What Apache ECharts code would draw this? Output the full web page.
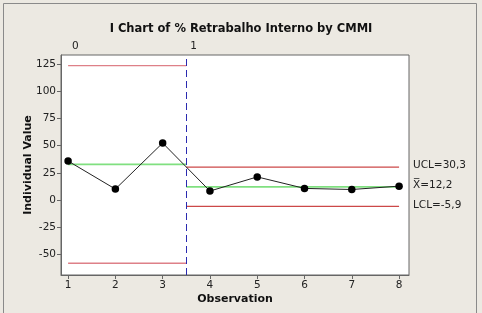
<!DOCTYPE html>
<html>
<head>
<meta charset="utf-8">
<script src="https://cdn.jsdelivr.net/npm/echarts@6/dist/echarts.min.js"></script>
<style>
  html, body { margin: 0; padding: 0; background: #ece9e2; }
  #chart { width: 482px; height: 313px; }
</style>
</head>
<body>
<div id="chart"></div>
<script>
// observations and their values
const observations = [1, 2, 3, 4, 5, 6, 7, 8];
const values = [35.9, 10.1, 52.5, 8.3, 21.3, 10.7, 9.7, 12.8];

// stages: name, first x, last x, UCL, mean, LCL
const stageNames = ["0", "1"];
const stageStart = [1, 3.5];
const stageEnd = [3.5, 8];
const ucl = [123.8, 30.3];
const mean = [32.8, 12.2];
const lcl = [-58.2, -5.9];

const xTicks = [1, 2, 3, 4, 5, 6, 7, 8];
const yTicks = [-50, -25, 0, 25, 50, 75, 100, 125];
const limitLabels = ["UCL=30,3", "X\u0305=12,2", "LCL=-5,9"];

const font = "Verdana, 'DejaVu Sans', sans-serif";
const chart = echarts.init(document.getElementById("chart"));

function stageLine(i, val, color, width) {
  return {
    type: "line",
    data: [[stageStart[i], val], [stageEnd[i], val]],
    symbol: "none",
    silent: true,
    lineStyle: { color: color, width: width },
    z: 1,
  };
}

const limitSeries = [];
for (let i = 0; i < stageNames.length; i++) {
  const red = i === 0 ? "#de8088" : "#cc4848";
  limitSeries.push(stageLine(i, ucl[i], red, 1.3));
  limitSeries.push(stageLine(i, lcl[i], red, 1.3));
  limitSeries.push(stageLine(i, mean[i], "#80e080", 1.8));
}

chart.setOption({
  animation: false,
  backgroundColor: "#ece9e2",
  title: {
    text: "I Chart of % Retrabalho Interno by CMMI",
    left: "center",
    top: 18,
    textStyle: { fontFamily: font, fontSize: 11.5, fontWeight: "bold", color: "#111" },
  },
  grid: {
    left: 61, top: 55, right: 73, bottom: 38,
    show: true,
    backgroundColor: "#fff",
    borderColor: "#666",
    borderWidth: 1,
  },
  xAxis: {
    type: "value",
    min: 0.85,
    max: 8.21,
    name: "Observation",
    nameLocation: "middle",
    nameGap: 19,
    nameMoveOverlap: false,
    nameTextStyle: { fontFamily: font, fontSize: 11, fontWeight: "bold", color: "#111" },
    axisLine: { show: true, onZero: false, lineStyle: { color: "#666" } },
    axisTick: { show: true, length: 4, customValues: xTicks, lineStyle: { color: "#666" } },
    axisLabel: { customValues: xTicks, margin: 5, fontFamily: font, fontSize: 10.5, color: "#222" },
    splitLine: { show: false },
  },
  yAxis: {
    type: "value",
    min: -69,
    max: 133.5,
    name: "Individual Value",
    nameLocation: "middle",
    nameGap: 27,
    nameMoveOverlap: false,
    nameTextStyle: { fontFamily: font, fontSize: 11, fontWeight: "bold", color: "#111" },
    axisLine: { show: true, lineStyle: { color: "#666" } },
    axisTick: { show: true, length: 4, customValues: yTicks, lineStyle: { color: "#666" } },
    axisLabel: { customValues: yTicks, margin: 5, fontFamily: font, fontSize: 10.5, color: "#222" },
    splitLine: { show: false },
  },
  series: [
    ...limitSeries,
    {
      type: "line",
      data: observations.map((x, i) => [x, values[i]]),
      symbol: "circle",
      symbolSize: 7.5,
      itemStyle: { color: "#000" },
      lineStyle: { color: "#222", width: 1 },
      z: 3,
      markLine: {
        silent: true,
        symbol: "none",
        label: { show: false },
        lineStyle: { color: "#2a2ab0", type: [7, 4], width: 1 },
        data: [{ xAxis: stageStart[1] }],
      },
    },
  ],
});

// stage names above plot and limit labels at the right
const graphics = [];
const plotTop = 55;
stageNames.forEach((name, i) => {
  const px = chart.convertToPixel({ gridIndex: 0 }, [stageStart[i], 0])[0];
  graphics.push({
    type: "text",
    left: px + 4,
    top: plotTop - 14,
    style: { text: name, font: "10.5px " + font, fill: "#222" },
  });
});
const lastStage = stageNames.length - 1;
[ucl[lastStage], mean[lastStage], lcl[lastStage]].forEach((v, i) => {
  const py = chart.convertToPixel({ gridIndex: 0 }, [8, v])[1];
  graphics.push({
    type: "text",
    left: 413,
    top: py - 7,
    style: { text: limitLabels[i], font: "10.5px " + font, fill: "#222" },
  });
});
// outer frame
graphics.push({
  type: "rect",
  shape: { x: 3.5, y: 3.5, width: 473, height: 320 },
  style: { fill: null, stroke: "#8a8a8a", lineWidth: 1 },
  silent: true,
});
chart.setOption({ graphic: graphics });
</script>
</body>
</html>
